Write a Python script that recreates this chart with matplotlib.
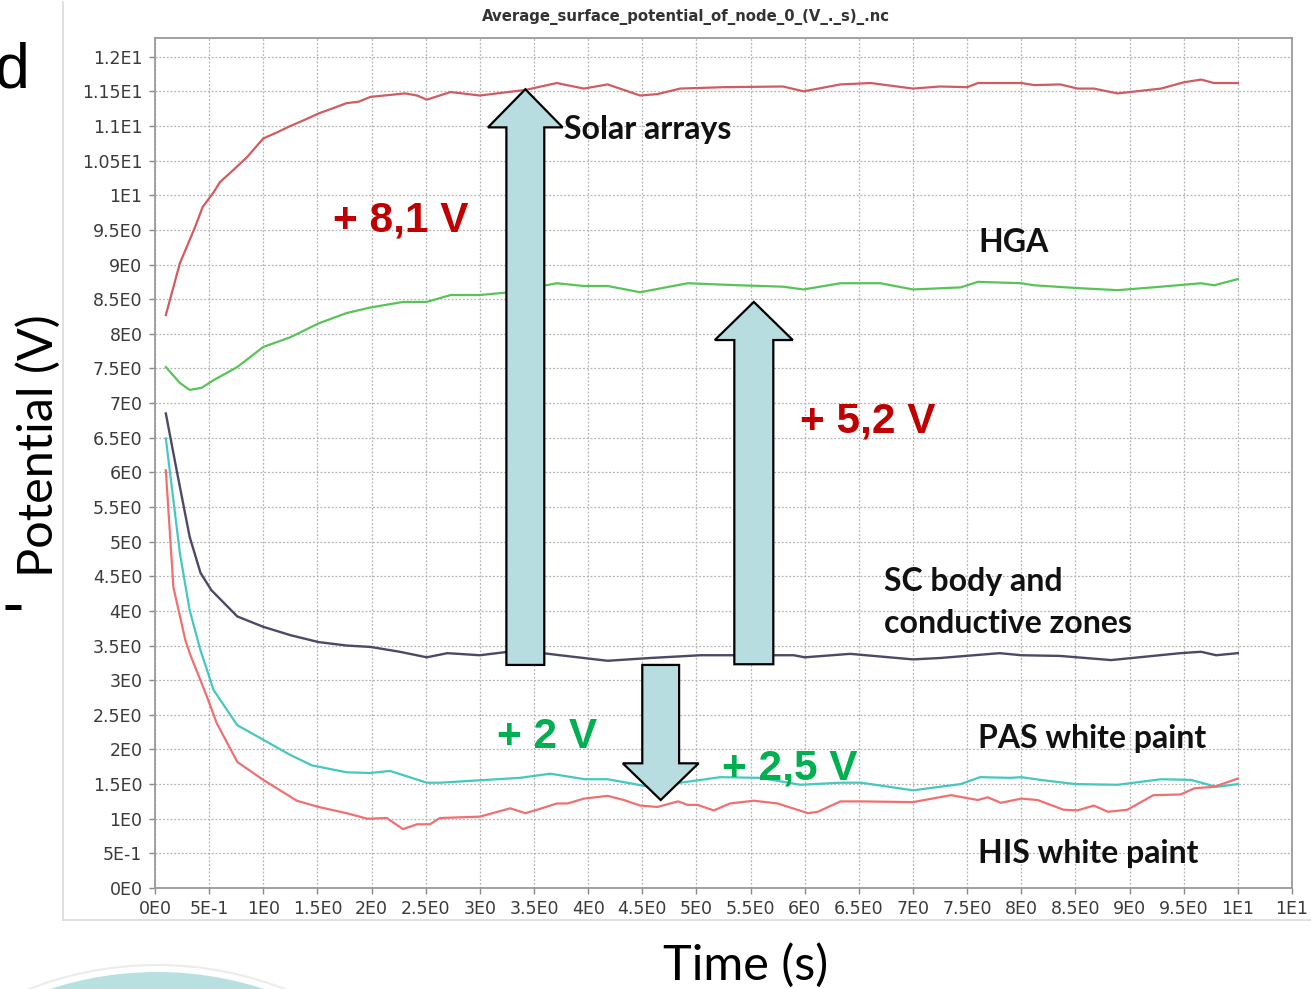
import numpy as np
import matplotlib
matplotlib.use("Agg")
import matplotlib.pyplot as plt
from matplotlib.patches import Polygon, Ellipse
from matplotlib.lines import Line2D

# ---------------- data ----------------
solar_t = [0.1, 0.23, 0.37, 0.44, 0.54, 0.6, 0.72, 0.85, 1.0, 1.13, 1.25, 1.37, 1.51, 1.65, 1.77, 1.88, 1.99,
           2.31, 2.42, 2.51, 2.73, 3.0, 3.42, 3.71, 3.96, 4.18, 4.48, 4.64, 4.85, 5.25, 5.8, 5.99, 6.33, 6.61,
           7.0, 7.25, 7.5, 7.6, 8.0, 8.12, 8.36, 8.52, 8.67, 8.89, 9.29, 9.5, 9.66, 9.78, 10.0]
solar_v = [8.27, 9.02, 9.54, 9.83, 10.04, 10.19, 10.36, 10.55, 10.82, 10.91, 11.0, 11.08, 11.18, 11.26, 11.33, 11.35, 11.42,
           11.47, 11.44, 11.38, 11.49, 11.44, 11.52, 11.62, 11.54, 11.6, 11.44, 11.46, 11.54, 11.56, 11.57, 11.5, 11.6, 11.62,
           11.54, 11.57, 11.56, 11.62, 11.62, 11.59, 11.6, 11.54, 11.54, 11.47, 11.54, 11.63, 11.67, 11.62, 11.62]

hga_t = [0.1, 0.23, 0.32, 0.43, 0.54, 0.76, 1.0, 1.25, 1.51, 1.77, 1.99, 2.29, 2.51, 2.73, 3.0, 3.28, 3.71, 3.96,
         4.18, 4.48, 4.92, 5.4, 5.8, 5.99, 6.33, 6.7, 7.0, 7.44, 7.6, 8.0, 8.12, 8.52, 8.89, 9.29, 9.66, 9.78, 10.0]
hga_v = [7.52, 7.29, 7.19, 7.22, 7.33, 7.52, 7.81, 7.95, 8.15, 8.3, 8.38, 8.46, 8.46, 8.56, 8.56, 8.6, 8.73, 8.69,
         8.69, 8.6, 8.73, 8.7, 8.68, 8.64, 8.73, 8.73, 8.64, 8.67, 8.75, 8.73, 8.7, 8.66, 8.63, 8.68, 8.73, 8.7, 8.79]

sc_t = [0.1, 0.2, 0.32, 0.42, 0.52, 0.76, 1.0, 1.25, 1.51, 1.77, 1.99, 2.26, 2.51, 2.7, 3.0, 3.37, 3.74, 4.18,
        4.57, 5.04, 5.9, 6.0, 6.42, 7.0, 7.25, 7.8, 8.0, 8.36, 8.83, 9.47, 9.66, 9.8, 10.0]
sc_v = [6.85, 6.03, 5.07, 4.55, 4.3, 3.92, 3.77, 3.65, 3.55, 3.5, 3.48, 3.41, 3.33, 3.39, 3.36, 3.43, 3.36, 3.28,
        3.32, 3.36, 3.36, 3.33, 3.38, 3.3, 3.32, 3.39, 3.36, 3.35, 3.29, 3.39, 3.41, 3.36, 3.39]

pas_t = [0.1, 0.23, 0.32, 0.42, 0.48, 0.54, 0.76, 1.0, 1.25, 1.45, 1.77, 1.99, 2.17, 2.51, 2.63, 3.37, 3.65, 3.97,
         4.18, 4.57, 5.04, 5.22, 5.59, 5.96, 6.33, 6.52, 7.0, 7.44, 7.62, 7.9, 8.0, 8.18, 8.5, 8.89, 9.29, 9.57, 9.8, 10.0]
pas_v = [6.49, 4.83, 4.01, 3.43, 3.15, 2.86, 2.35, 2.14, 1.92, 1.77, 1.67, 1.66, 1.69, 1.52, 1.52, 1.59, 1.65, 1.57,
         1.57, 1.46, 1.56, 1.6, 1.59, 1.49, 1.52, 1.52, 1.41, 1.5, 1.6, 1.59, 1.6, 1.56, 1.5, 1.49, 1.57, 1.56, 1.46, 1.5]

his_t = [0.1, 0.17, 0.28, 0.32, 0.48, 0.57, 0.76, 1.0, 1.31, 1.51, 1.77, 1.96, 2.14, 2.29, 2.42, 2.54, 2.63, 3.0,
         3.28, 3.42, 3.53, 3.71, 3.81, 3.96, 4.18, 4.33, 4.48, 4.64, 4.83, 4.92, 5.01, 5.16, 5.31, 5.53, 5.75, 6.03,
         6.12, 6.33, 6.52, 7.0, 7.35, 7.6, 7.69, 7.81, 8.0, 8.15, 8.39, 8.52, 8.67, 8.8, 8.98, 9.22, 9.47, 9.6, 9.78, 10.0]
his_v = [6.03, 4.34, 3.58, 3.39, 2.76, 2.38, 1.82, 1.56, 1.26, 1.17, 1.08, 1.0, 1.01, 0.85, 0.92, 0.92, 1.01, 1.03,
         1.15, 1.08, 1.13, 1.22, 1.22, 1.29, 1.33, 1.27, 1.19, 1.17, 1.25, 1.2, 1.2, 1.12, 1.22, 1.26, 1.22, 1.08,
         1.1, 1.25, 1.25, 1.24, 1.34, 1.27, 1.31, 1.23, 1.29, 1.27, 1.13, 1.12, 1.19, 1.1, 1.13, 1.34, 1.35, 1.44, 1.46, 1.58]

x_ticks = list(np.arange(0, 10.51, 0.5))
x_tick_labels = ["0E0", "5E-1", "1E0", "1.5E0", "2E0", "2.5E0", "3E0", "3.5E0", "4E0", "4.5E0", "5E0",
                 "5.5E0", "6E0", "6.5E0", "7E0", "7.5E0", "8E0", "8.5E0", "9E0", "9.5E0", "1E1", "1E1"]
y_ticks = list(np.arange(0, 12.01, 0.5))
y_tick_labels = ["0E0", "5E-1", "1E0", "1.5E0", "2E0", "2.5E0", "3E0", "3.5E0", "4E0", "4.5E0", "5E0",
                 "5.5E0", "6E0", "6.5E0", "7E0", "7.5E0", "8E0", "8.5E0", "9E0", "9.5E0", "1E1",
                 "1.05E1", "1.1E1", "1.15E1", "1.2E1"]

title = "Average_surface_potential_of_node_0_(V_._s)_.nc"

# ---------------- figure ----------------
W, H = 1311, 989
fig = plt.figure(figsize=(W / 100, H / 100), dpi=100)
fig.patch.set_facecolor("white")

def fx(px):
    return px / W

def fy(py):
    return 1 - py / H

# background decorations of the slide
fig.add_artist(Line2D([fx(63), fx(63)], [fy(2), fy(920)], color="#dadada", lw=1.2))
fig.add_artist(Line2D([fx(63), fx(1311)], [fy(920), fy(920)], color="#dadada", lw=1.2))
fig.add_artist(Ellipse((fx(157), fy(1317)), 2 * 352 / W, 2 * 352 / H, transform=fig.transFigure,
                       facecolor="none", edgecolor="#ececec", lw=1.5))
fig.add_artist(Ellipse((fx(157), fy(1317)), 2 * 345 / W, 2 * 345 / H, transform=fig.transFigure,
                       facecolor="#b9e0e0", edgecolor="none"))
fig.add_artist(Line2D([fx(5), fx(21)], [fy(606.5), fy(606.5)], color="black", lw=3.6,
                      solid_capstyle="butt"))
fig.text(fx(-6), fy(87), "d", fontsize=45, family="Liberation Sans", color="black",
         ha="left", va="baseline")

ax = fig.add_axes([fx(155), fy(888), (1292 - 155) / W, (888 - 38) / H])
ax.set_xlim(0, 10.5)
ax.set_ylim(0, 12.27)

ax.set_xticks(x_ticks)
ax.set_xticklabels(x_tick_labels)
ax.set_yticks(y_ticks)
ax.set_yticklabels(y_tick_labels)
ax.tick_params(axis="both", direction="out", length=4, width=1, color="#888888",
               labelsize=12.5, labelcolor="#3a3a3a", pad=5)
for lab in ax.get_xticklabels() + ax.get_yticklabels():
    lab.set_family("DejaVu Sans")

for s in ax.spines.values():
    s.set_color("#9a9a9a")
    s.set_linewidth(1.3)

ax.grid(True, which="major", color="#b4b4b4", linestyle=(0, (1.5, 1.5)), linewidth=0.9)
ax.set_axisbelow(True)

ax.plot(solar_t, solar_v, color="#d05c60", lw=1.6, zorder=3)
ax.plot(hga_t, hga_v, color="#58c458", lw=1.6, zorder=3)
ax.plot(sc_t, sc_v, color="#4a4a68", lw=1.7, zorder=3)
ax.plot(pas_t, pas_v, color="#45c8c0", lw=1.6, zorder=3)
ax.plot(his_t, his_v, color="#f07070", lw=1.6, zorder=3)

def block_arrow(xc, y0, y1, shaft_w, head_w, head_len):
    d = 1 if y1 > y0 else -1
    yb = y1 - d * head_len
    pts = [(xc - shaft_w / 2, y0), (xc - shaft_w / 2, yb), (xc - head_w / 2, yb), (xc, y1),
           (xc + head_w / 2, yb), (xc + shaft_w / 2, yb), (xc + shaft_w / 2, y0)]
    ax.add_patch(Polygon(pts, closed=True, facecolor="#b8dde0", edgecolor="black", lw=1.6,
                         joinstyle="miter", zorder=5))

block_arrow(3.42, 3.22, 11.53, 0.35, 0.69, 0.55)
block_arrow(5.53, 3.23, 8.46, 0.36, 0.72, 0.55)
block_arrow(4.67, 3.22, 1.27, 0.34, 0.70, 0.53)

red = "#c00000"
green = "#00b050"
for x, y, s, c in [(1.645, 9.47, "+ 8,1 V", red), (5.96, 6.58, "+ 5,2 V", red),
                   (3.16, 2.02, "+ 2 V", green), (5.24, 1.56, "+ 2,5 V", green)]:
    ax.text(x, y, s, color=c, fontsize=30.5, fontweight="bold", family="Liberation Sans",
            ha="left", va="baseline", zorder=6)

for x, y, s in [(3.78, 10.81, "Solar arrays"), (7.60, 9.18, "HGA"), (6.73, 4.29, "SC body and"),
                (6.73, 3.68, "conductive zones"), (7.60, 2.02, "PAS white paint"),
                (7.60, 0.36, "HIS white paint")]:
    ax.text(x, y, s, color="#111111", fontsize=23, fontweight="bold", family="Lato",
            ha="left", va="baseline", zorder=6)

fig.text(fx(686), fy(17), title, fontsize=10.7, fontweight="bold", family="DejaVu Sans",
         color="#333333", ha="center", va="center")

fig.text(fx(663), fy(980), "Time (s)", fontsize=35, family="Lato", color="black",
         ha="left", va="baseline")
fig.text(fx(53), fy(577), "Potential (V)", fontsize=35, family="Lato", color="black",
         rotation=90, rotation_mode="anchor", ha="left", va="baseline")

fig.savefig("out.png", dpi=100)
